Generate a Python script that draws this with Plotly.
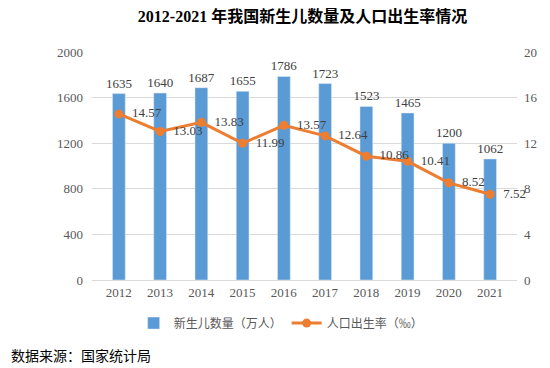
import plotly.graph_objects as go

years = ["2012", "2013", "2014", "2015", "2016", "2017", "2018", "2019", "2020", "2021"]
births = [1635, 1640, 1687, 1655, 1786, 1723, 1523, 1465, 1200, 1062]
birth_rate = [14.57, 13.03, 13.83, 11.99, 13.57, 12.64, 10.86, 10.41, 8.52, 7.52]

title_text = "<b>2012-2021 年我国新生儿数量及人口出生率情况</b>"
source_text = "数据来源：国家统计局"

font_fam = "Liberation Serif, Noto Sans CJK SC, serif"
txt_color = "#404040"

fig = go.Figure()
fig.add_trace(go.Bar(
    x=years, y=births, name="新生儿数量（万人）",
    marker_color="#5B9BD5", width=0.31,
    text=[str(v) for v in births], textposition="outside", constraintext="none",
    textfont=dict(family=font_fam, size=13, color=txt_color),
    cliponaxis=False,
))
fig.add_trace(go.Scatter(
    x=years, y=birth_rate, name="人口出生率（‰）", yaxis="y2",
    mode="lines+markers+text",
    line=dict(color="#ED7D31", width=3),
    marker=dict(color="#ED7D31", size=9),
    text=["  " + f"{v:.2f}" for v in birth_rate], textposition="middle right",
    textfont=dict(family=font_fam, size=13, color=txt_color),
    cliponaxis=False,
))

fig.update_layout(
    width=550, height=368,
    margin=dict(l=92, r=28, t=52, b=88),
    paper_bgcolor="white", plot_bgcolor="white",
    title=dict(text=title_text, x=0.55, xanchor="center", y=0.955, yanchor="middle",
               font=dict(family=font_fam, size=16, color="#000000")),
    font=dict(family=font_fam, size=13, color="#595959"),
    showlegend=True,
    legend=dict(orientation="h", x=0.445, xanchor="center", y=-0.189, yanchor="middle",
                font=dict(family="Noto Sans CJK SC", size=12, color="#595959"),
                itemwidth=30),
    xaxis=dict(showgrid=False, showline=True, linecolor="#D9D9D9", linewidth=1,
               ticks="", tickfont=dict(family=font_fam, size=13, color="#595959")),
    yaxis=dict(range=[0, 2000], dtick=400, showgrid=True, gridcolor="#D9D9D9",
               zeroline=False, ticks="", ticklabelstandoff=8,
               tickfont=dict(family=font_fam, size=13, color="#595959")),
    yaxis2=dict(range=[0, 20], dtick=4, overlaying="y", side="right", showgrid=False,
                zeroline=False, ticks="", ticklabelstandoff=6,
                tickfont=dict(family=font_fam, size=13, color="#595959")),
    annotations=[dict(text=source_text, xref="paper", yref="paper",
                      x=(8 - 92) / 430, y=-0.33, xanchor="left", yanchor="middle",
                      showarrow=False,
                      font=dict(family="Noto Sans CJK SC", size=14, color="#000000"))],
)

fig.write_html("out.html", config={"displayModeBar": False},
               post_script="document.body.style.margin='0';")
